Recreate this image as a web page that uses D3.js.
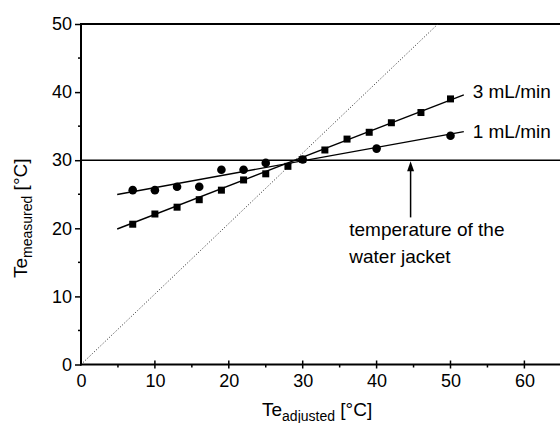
<!DOCTYPE html>
<html>
<head>
<meta charset="utf-8">
<script src="https://cdn.jsdelivr.net/npm/d3@7"></script>
<style>
  body { margin: 0; background: #fff; }
  svg { display: block; font-family: "Liberation Sans", Arial, sans-serif; }
</style>
</head>
<body>
<svg width="560" height="423"></svg>
<script>
// data
var xCircle = [7, 10, 13, 16, 19, 22, 25, 30, 40, 50];
var yCircle = [25.6, 25.6, 26.1, 26.1, 28.6, 28.6, 29.6, 30.1, 31.7, 33.6];
var xSquare = [7, 10, 13, 16, 19, 22, 25, 28, 30, 33, 36, 39, 42, 46, 50];
var ySquare = [20.6, 22.1, 23.1, 24.2, 25.6, 27.1, 28.0, 29.1, 30.1, 31.5, 33.1, 34.1, 35.5, 37.0, 39.0];
var fit1 = [[4.9, 24.97], [51.8, 34.2]];
var fit3 = [[4.9, 19.9], [51.8, 39.6]];
var ideal = [[0, 0], [48.3, 50]];
var jacketT = 30;
var xTicks = [0, 10, 20, 30, 40, 50, 60];
var yTicks = [0, 10, 20, 30, 40, 50];

var svg = d3.select("svg");

var x = d3.scaleLinear().domain([0, 70]).range([81, 81 + 7 * 73.9]);
var y = d3.scaleLinear().domain([0, 50]).range([364.5, 24]);

var line = d3.line().x(function(d) { return x(d[0]); }).y(function(d) { return y(d[1]); });

// frame top + y=30 line
svg.append("line")
    .attr("x1", x(0)).attr("x2", 560)
    .attr("y1", y(50)).attr("y2", y(50))
    .attr("stroke", "#000").attr("stroke-width", 2);

svg.append("line")
    .attr("x1", x(0)).attr("x2", 560)
    .attr("y1", y(jacketT)).attr("y2", y(jacketT))
    .attr("stroke", "#000").attr("stroke-width", 1.5);

// ideal dotted line
svg.append("path")
    .attr("d", line(ideal))
    .attr("fill", "none")
    .attr("stroke", "#222").attr("stroke-width", 1)
    .attr("stroke-dasharray", "1,2");

// fit lines
svg.append("path").attr("d", line(fit3)).attr("fill", "none").attr("stroke", "#000").attr("stroke-width", 1.4);
svg.append("path").attr("d", line(fit1)).attr("fill", "none").attr("stroke", "#000").attr("stroke-width", 1.4);

// axes
var xAxis = svg.append("g").attr("transform", "translate(0," + y(0) + ")")
    .call(d3.axisBottom(x).tickValues(xTicks).tickSize(0).tickPadding(10).tickFormat(d3.format("d")));
xAxis.select(".domain").remove();
xAxis.selectAll("text").attr("font-size", 18).attr("font-family", "Liberation Sans, Arial, sans-serif").attr("fill", "#000");

var yAxis = svg.append("g").attr("transform", "translate(" + x(0) + ",0)")
    .call(d3.axisLeft(y).tickValues(yTicks).tickSize(6).tickPadding(3).tickFormat(d3.format("d")));
yAxis.select(".domain").remove();
yAxis.selectAll("line").attr("stroke-width", 1.5);
yAxis.selectAll("text").attr("font-size", 18).attr("font-family", "Liberation Sans, Arial, sans-serif").attr("fill", "#000");

// x ticks: major cross, minor out
var xMinor = d3.range(5, 70, 10);
svg.append("g").selectAll("line").data(xTicks.slice(1)).enter().append("line")
    .attr("x1", function(d) { return x(d); }).attr("x2", function(d) { return x(d); })
    .attr("y1", y(0) - 4).attr("y2", y(0) + 4)
    .attr("stroke", "#000").attr("stroke-width", 1.5);
svg.append("g").selectAll("line").data(xMinor).enter().append("line")
    .attr("x1", function(d) { return x(d); }).attr("x2", function(d) { return x(d); })
    .attr("y1", y(0)).attr("y2", y(0) + 3)
    .attr("stroke", "#000").attr("stroke-width", 1.5);
var yMinor = d3.range(5, 50, 10);
svg.append("g").selectAll("line").data(yMinor).enter().append("line")
    .attr("y1", function(d) { return y(d); }).attr("y2", function(d) { return y(d); })
    .attr("x1", x(0) - 3).attr("x2", x(0))
    .attr("stroke", "#000").attr("stroke-width", 1.5);

// axis lines
svg.append("line").attr("x1", x(0)).attr("x2", x(0)).attr("y1", y(50) - 1).attr("y2", y(0) + 1)
    .attr("stroke", "#000").attr("stroke-width", 2);
svg.append("line").attr("x1", x(0) - 1).attr("x2", 560).attr("y1", y(0)).attr("y2", y(0))
    .attr("stroke", "#000").attr("stroke-width", 2);

// points
svg.append("g").selectAll("circle").data(xCircle).enter().append("circle")
    .attr("cx", function(d) { return x(d); })
    .attr("cy", function(d, i) { return y(yCircle[i]); })
    .attr("r", 4.3).attr("fill", "#000");

svg.append("g").selectAll("rect").data(xSquare).enter().append("rect")
    .attr("x", function(d) { return x(d) - 3.5; })
    .attr("y", function(d, i) { return y(ySquare[i]) - 3.5; })
    .attr("width", 7).attr("height", 7).attr("fill", "#000");

// labels
svg.append("text").attr("x", x(53)).attr("y", y(39.2)).attr("font-size", 19).text("3 mL/min");
svg.append("text").attr("x", x(53)).attr("y", y(33.3)).attr("font-size", 19).text("1 mL/min");

// arrow to jacket temperature
svg.append("line")
    .attr("x1", x(44.6)).attr("x2", x(44.6))
    .attr("y1", y(21.6)).attr("y2", y(jacketT) + 8)
    .attr("stroke", "#000").attr("stroke-width", 1.5);
svg.append("path")
    .attr("d", "M" + x(44.6) + "," + (y(jacketT) + 1) + "l-3.5,10h7z")
    .attr("fill", "#000");

svg.append("text").attr("x", x(36.3)).attr("y", y(18.8)).attr("font-size", 19).text("temperature of the");
svg.append("text").attr("x", x(36.3)).attr("y", y(14.85)).attr("font-size", 19).text("water jacket");

// axis titles
var xt = svg.append("text").attr("x", 262).attr("y", 416).attr("font-size", 19);
xt.append("tspan").text("Te");
xt.append("tspan").attr("font-size", 14).attr("dy", 5).text("adjusted");
xt.append("tspan").attr("dy", -5).text(" [°C]");

var yt = svg.append("text").attr("transform", "translate(27,278) rotate(-90)").attr("font-size", 19);
yt.append("tspan").text("Te");
yt.append("tspan").attr("font-size", 14).attr("dy", 5).text("measured");
yt.append("tspan").attr("dy", -5).text(" [°C]");
</script>
</body>
</html>
